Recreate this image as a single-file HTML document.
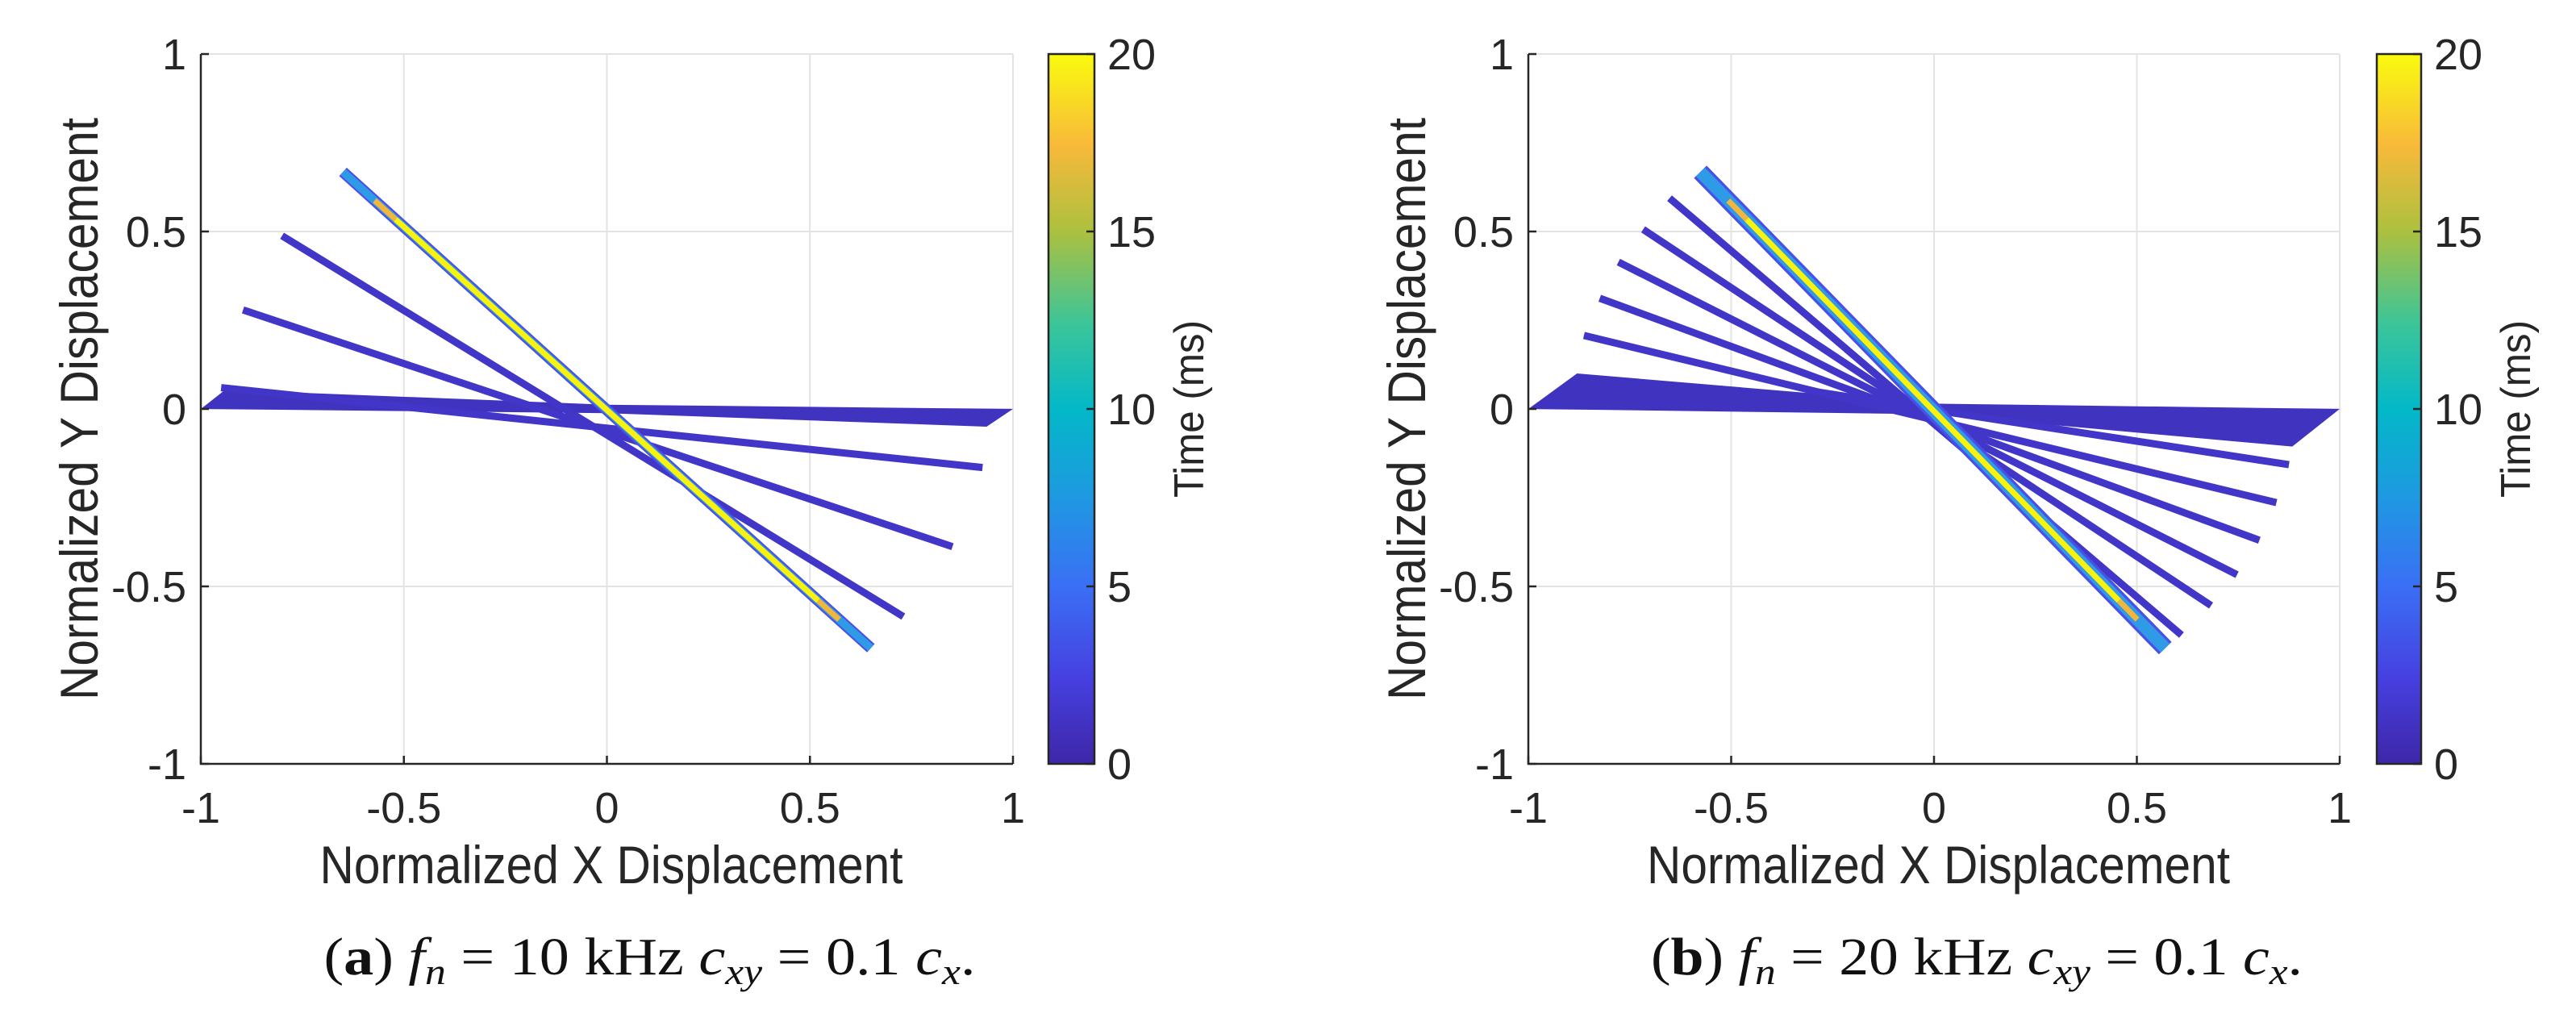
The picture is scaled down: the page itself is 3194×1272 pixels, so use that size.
<!DOCTYPE html>
<html><head><meta charset="utf-8"><style>
html,body{margin:0;padding:0;background:#fff;width:3194px;height:1272px;overflow:hidden}
svg{display:block}
text{font-family:"Liberation Sans",Arial,sans-serif;fill:#262626}
.cap{font-family:"Liberation Serif",serif;fill:#111}
</style></head><body>
<svg id="chart" width="3194" height="1272" viewBox="0 0 3194 1272" xmlns="http://www.w3.org/2000/svg">
<defs>
<linearGradient id="parula" x1="0" y1="1" x2="0" y2="0">
<stop offset="0" stop-color="#3e26a8"/><stop offset="0.12" stop-color="#4640e0"/>
<stop offset="0.25" stop-color="#3a6ff5"/><stop offset="0.38" stop-color="#1d9ae0"/>
<stop offset="0.5" stop-color="#03b8c8"/><stop offset="0.62" stop-color="#3cc599"/>
<stop offset="0.75" stop-color="#acc03f"/><stop offset="0.87" stop-color="#f8b93a"/>
<stop offset="1" stop-color="#f9fb0e"/>
</linearGradient>
</defs>
<g id="root"></g>
</svg>
<script>
// Panel (a): fn = 10 kHz
const aSegX0 = [-0.80, -0.896, -0.95];
const aSegY0 = [0.488, 0.279, 0.06];
const aSegX1 = [0.73, 0.851, 0.925];
const aSegY1 = [-0.585, -0.388, -0.165];
const aMain = [-0.65, 0.668, 0.65, -0.674];
const aBandX = [-1, -0.94, 0.0, 1, 0.935, 0.0];
const aBandY = [0, 0.054, 0.012, 0, -0.05, -0.012];
// Panel (b): fn = 20 kHz
const bSegX0 = [-0.652, -0.717, -0.778, -0.824, -0.863, -0.30];
const bSegY0 = [0.594, 0.506, 0.414, 0.312, 0.207, 0.05];
const bSegX1 = [0.61, 0.683, 0.747, 0.802, 0.844, 0.875];
const bSegY1 = [-0.637, -0.554, -0.467, -0.37, -0.264, -0.157];
const bMain = [-0.576, 0.668, 0.57, -0.674];
const bBandX = [-1, -0.88, 0.0, 1, 0.883, 0.0];
const bBandY = [0, 0.10, 0.015, 0, -0.106, -0.015];
const tickVals = [-1, -0.5, 0, 0.5, 1];
const tickLabels = ["-1", "-0.5", "0", "0.5", "1"];
const cbTicks = [0, 5, 10, 15, 20];
const cbMax = 20;

const NS = "http://www.w3.org/2000/svg";
const root = document.getElementById('root');
function mk(tag, attrs, parent, txt) {
  const e = document.createElementNS(NS, tag);
  for (const k in attrs) e.setAttribute(k, attrs[k]);
  if (txt !== undefined) e.textContent = txt;
  (parent || root).appendChild(e);
  return e;
}

function panel(id, L, R, cbL, cbR, segX0, segY0, segX1, segY1, main, bandX, bandY, letter, freq) {
  const T = 67, B = 947;
  const sx = v => L + (v + 1) / 2 * (R - L);
  const sy = v => T + (1 - v) / 2 * (B - T);
  const g = mk('g', {});
  
  
  tickVals.forEach((v, i) => {
    if (i > 0 && i < tickVals.length - 1) {
      const gx = mk('line', {x1: sx(v), x2: sx(v), y1: T, y2: B, stroke: '#e3e3e3', 'stroke-width': 2}, g);
      
      
      const gy = mk('line', {x1: L, x2: R, y1: sy(v), y2: sy(v), stroke: '#e3e3e3', 'stroke-width': 2}, g);
      
      
    }
  });
  mk('line', {x1: L, x2: R, y1: T, y2: T, stroke: '#e3e3e3', 'stroke-width': 2}, g);
  mk('line', {x1: R, x2: R, y1: T, y2: B, stroke: '#e3e3e3', 'stroke-width': 2}, g);
  const pts = bandX.map((x, i) => sx(x) + ',' + sy(bandY[i])).join(' ');
  const band = mk('polygon', {points: pts, fill: '#4033c0'}, g);
  
  
  segX0.forEach((x, i) => {
    const s = mk('line', {x1: sx(x), y1: sy(segY0[i]), x2: sx(segX1[i]), y2: sy(segY1[i]), stroke: '#4236c9', 'stroke-width': 9}, g);
    
    
  });
  const mg = mk('g', {}, g);
  
  
  const mx0 = sx(main[0]), my0 = sy(main[1]), mx1 = sx(main[2]), my1 = sy(main[3]);
  const wide = id === 'b' ? 22 : 14;
  mk('line', {x1: mx0, y1: my0, x2: mx1, y2: my1, stroke: '#4a4fe6', 'stroke-width': wide}, mg);
  mk('line', {x1: mx0, y1: my0, x2: mx1, y2: my1, stroke: '#2f9ae6', 'stroke-width': wide * 0.7}, mg);
  const fx = 0.06;
  mk('line', {x1: mx0 + (mx1 - mx0) * fx, y1: my0 + (my1 - my0) * fx, x2: mx1 - (mx1 - mx0) * fx, y2: my1 - (my1 - my0) * fx, stroke: '#f2b63c', 'stroke-width': 7}, mg);
  mk('line', {x1: mx0 + (mx1 - mx0) * 0.1, y1: my0 + (my1 - my0) * 0.1, x2: mx1 - (mx1 - mx0) * 0.1, y2: my1 - (my1 - my0) * 0.1, stroke: '#f9f20e', 'stroke-width': 7}, mg);
  const ax = mk('path', {d: `M${L},${T} V${B} H${R}`, fill: 'none', stroke: '#262626', 'stroke-width': 2.5}, g);
  
  
  tickVals.forEach((v, i) => {
    mk('line', {x1: sx(v), x2: sx(v), y1: B, y2: B - 10, stroke: '#262626', 'stroke-width': 2.5}, g);
    mk('line', {x1: L, x2: L + 10, y1: sy(v), y2: sy(v), stroke: '#262626', 'stroke-width': 2.5}, g);
    const xt = mk('text', {x: sx(v), y: 1020, 'font-size': 54, 'text-anchor': 'middle'}, g, tickLabels[i]);
    
    
    const yt = mk('text', {x: L - 18, y: sy(v) + 19, 'font-size': 54, 'text-anchor': 'end'}, g, tickLabels[i]);
    
    
  });
  const xl = mk('text', {x: (L + R) / 2 + 5 - 361, y: 1095, 'font-size': 66, textLength: 723, lengthAdjust: 'spacingAndGlyphs'}, g, 'Normalized X Displacement');
  
  
  const yl = mk('text', {x: -361, y: 0, 'font-size': 66, textLength: 722, lengthAdjust: 'spacingAndGlyphs', transform: `translate(${L - 128},${(T + B) / 2}) rotate(-90)`}, g, 'Normalized Y Displacement');
  
  
  const cb = mk('rect', {x: cbL, y: T, width: cbR - cbL, height: B - T, fill: 'url(#parula)', stroke: '#262626', 'stroke-width': 2.5}, g);
  
  
  cbTicks.forEach(v => {
    const y = B - v / cbMax * (B - T);
    mk('line', {x1: cbR - 10, x2: cbR, y1: y, y2: y, stroke: '#262626', 'stroke-width': 2.5}, g);
    const t = mk('text', {x: cbR + 16, y: y + 19, 'font-size': 54}, g, String(v));
    
    
  });
  const cl = mk('text', {x: -110, y: 0, 'font-size': 52, textLength: 220, lengthAdjust: 'spacingAndGlyphs', transform: `translate(${cbR + 135},${(T + B) / 2}) rotate(-90)`}, g, 'Time (ms)');
  
  
  const cap = mk('text', {x: (L + R) / 2 + 53 - 404, y: 1208, 'font-size': 66, textLength: 808, lengthAdjust: 'spacingAndGlyphs', class: 'cap'}, g);
  
  
  cap.innerHTML = `(<tspan font-weight="bold">${letter}</tspan>) <tspan font-style="italic">f</tspan><tspan font-style="italic" font-size="46" dy="12">n</tspan><tspan dy="-12"> = ${freq} kHz </tspan><tspan font-style="italic">c</tspan><tspan font-style="italic" font-size="46" dy="12">xy</tspan><tspan dy="-12"> = 0.1 </tspan><tspan font-style="italic">c</tspan><tspan font-style="italic" font-size="46" dy="12">x</tspan><tspan dy="-12">.</tspan>`;
}

panel('a', 249, 1256, 1300, 1357, aSegX0, aSegY0, aSegX1, aSegY1, aMain, aBandX, aBandY, 'a', 10);
panel('b', 1895, 2901, 2947, 3002, bSegX0, bSegY0, bSegX1, bSegY1, bMain, bBandX, bBandY, 'b', 20);
</script>
</body></html>
